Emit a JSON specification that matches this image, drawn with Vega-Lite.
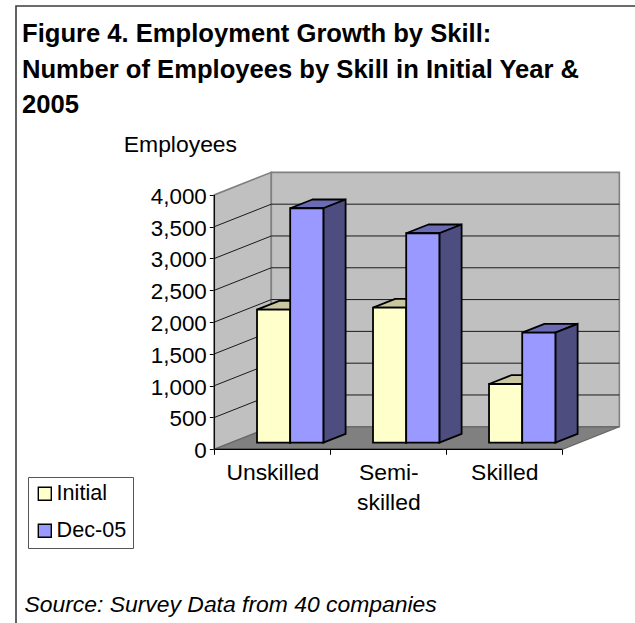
{
  "$schema": "https://vega.github.io/schema/vega-lite/v6.json",
  "width": 625,
  "height": 625,
  "autosize": "none",
  "padding": {"left": 16, "top": 6, "right": -6, "bottom": -8},
  "background": "white",
  "view": {"stroke": "#3c3c3c", "strokeWidth": 1.6, "fill": "white"},
  "config": {"font": "Liberation Sans"},
  "title": {
    "text": ["Figure 4. Employment Growth by Skill:", "Number of Employees by Skill in Initial Year &", "2005"],
    "anchor": "start",
    "frame": "group",
    "offset": 0,
    "dx": 6,
    "dy": 113,
    "align": "left",
    "font": "Liberation Sans",
    "fontSize": 25.6,
    "fontWeight": "bold",
    "color": "black",
    "lineHeight": 35.5
  },
  "params": [
    {"name": "Dx", "value": 0.4914},
    {"name": "Dy", "value": 354},
    {"name": "zNear", "value": 0.293},
    {"name": "zFar", "value": 0.683}
  ],
  "datasets": {
    "bars": [
      {"skill": "Unskilled", "series": "Initial", "value": 2092},
      {"skill": "Unskilled", "series": "Dec-05", "value": 3686},
      {"skill": "Semi-skilled", "series": "Initial", "value": 2123},
      {"skill": "Semi-skilled", "series": "Dec-05", "value": 3293},
      {"skill": "Skilled", "series": "Initial", "value": 923},
      {"skill": "Skilled", "series": "Dec-05", "value": 1730}
    ],
    "depth": [{"z": 0}, {"z": 1}],
    "span": [{"c": 0}, {"c": 3}],
    "ticks": [{"v": 500}, {"v": 1000}, {"v": 1500}, {"v": 2000}, {"v": 2500}, {"v": 3000}, {"v": 3500}],
    "origin": [{"o": 0}]
  },
  "layer": [
    {
      "data": {"name": "depth"},
      "transform": [
        {"calculate": "datum.z * Dx", "as": "px"},
        {"calculate": "datum.z * Dy", "as": "py"},
        {"calculate": "4000 + datum.z * Dy", "as": "py2"}
      ],
      "mark": {"type": "area", "fill": "#c0c0c0", "stroke": "#808080", "strokeWidth": 1.6},
      "encoding": {
        "x": {
          "field": "px",
          "type": "quantitative",
          "scale": {"domain": [-1.7095, 3.678], "nice": false, "zero": false},
          "axis": {
            "orient": "bottom",
            "offset": -181.7,
            "domain": false,
            "grid": false,
            "values": [0, 0.5, 1, 1.5, 2, 2.5, 3],
            "labelExpr": "datum.value == 0.5 ? 'Unskilled' : datum.value == 1.5 ? ['Semi-', 'skilled'] : datum.value == 2.5 ? 'Skilled' : ''",
            "labelFont": "Liberation Sans",
            "labelFontSize": 22.9,
            "labelColor": "black",
            "labelPadding": 7,
            "labelLineHeight": 30,
            "labelOverlap": false,
            "labelFlush": false,
            "labelBound": false,
            "tickColor": "black",
            "tickSize": 5,
            "tickOpacity": {"condition": {"test": "datum.value % 1 == 0", "value": 1}, "value": 0},
            "title": "Source: Survey Data from 40 companies",
            "titleFont": "Liberation Sans",
            "titleFontSize": 22.9,
            "titleFontStyle": "italic",
            "titleFontWeight": "normal",
            "titleColor": "black",
            "titleAnchor": "start",
            "titleAlign": "left",
            "titleBaseline": "alphabetic",
            "titleX": 8,
            "titleY": 162.5
          }
        },
        "y": {
          "field": "py",
          "type": "quantitative",
          "scale": {"domain": [-2857, 6970], "nice": false, "zero": false},
          "axis": {
            "orient": "left",
            "offset": -198.3,
            "domain": false,
            "grid": false,
            "values": [0, 500, 1000, 1500, 2000, 2500, 3000, 3500, 4000],
            "format": ",d",
            "labelFont": "Liberation Sans",
            "labelFontSize": 22.4,
            "labelColor": "black",
            "labelPadding": 3,
            "labelOffset": 1.5,
            "labelOverlap": false,
            "labelFlush": false,
            "labelBound": false,
            "tickColor": "black",
            "tickSize": 5,
            "title": "Employees",
            "titleFont": "Liberation Sans",
            "titleFontSize": 22.9,
            "titleFontWeight": "normal",
            "titleColor": "black",
            "titleAngle": 0,
            "titleAlign": "left",
            "titleBaseline": "middle",
            "titleX": -91,
            "titleY": 138
          }
        },
        "y2": {"field": "py2"}
      }
    },
    {
      "data": {"name": "span"},
      "transform": [
        {"calculate": "datum.c + Dx", "as": "px"},
        {"calculate": "Dy", "as": "py"},
        {"calculate": "4000 + Dy", "as": "py2"}
      ],
      "mark": {"type": "area", "fill": "#c0c0c0", "stroke": "#808080", "strokeWidth": 1.6},
      "encoding": {
        "x": {"field": "px", "type": "quantitative", "scale": {"domain": [-1.7095, 3.678], "nice": false, "zero": false}},
        "y": {"field": "py", "type": "quantitative", "scale": {"domain": [-2857, 6970], "nice": false, "zero": false}},
        "y2": {"field": "py2"}
      }
    },
    {
      "data": {"name": "depth"},
      "transform": [
        {"calculate": "datum.z * Dx", "as": "px"},
        {"calculate": "3 + datum.z * Dx", "as": "px2"},
        {"calculate": "datum.z * Dy", "as": "py"}
      ],
      "mark": {"type": "area", "orient": "horizontal", "fill": "#808080", "stroke": "#666666", "strokeWidth": 1.2},
      "encoding": {
        "x": {"field": "px", "type": "quantitative", "scale": {"domain": [-1.7095, 3.678], "nice": false, "zero": false}},
        "x2": {"field": "px2"},
        "y": {"field": "py", "type": "quantitative", "scale": {"domain": [-2857, 6970], "nice": false, "zero": false}}
      }
    },
    {
      "data": {"name": "ticks"},
      "transform": [
        {"calculate": "[0, 1, 2]", "as": "vertex"},
        {"flatten": ["vertex"]},
        {"calculate": "datum.vertex == 0 ? 0 : datum.vertex == 1 ? Dx : 3 + Dx", "as": "px"},
        {"calculate": "datum.vertex == 0 ? datum.v : datum.v + Dy", "as": "py"}
      ],
      "mark": {"type": "line", "color": "#1a1a1a", "strokeWidth": 1},
      "encoding": {
        "x": {"field": "px", "type": "quantitative", "scale": {"domain": [-1.7095, 3.678], "nice": false, "zero": false}},
        "y": {"field": "py", "type": "quantitative", "scale": {"domain": [-2857, 6970], "nice": false, "zero": false}},
        "detail": {"field": "v"}
      }
    },
    {
      "data": {"name": "bars"},
      "transform": [
        {"calculate": "indexof(['Unskilled', 'Semi-skilled', 'Skilled'], datum.skill)", "as": "idx"},
        {"calculate": "indexof(['Initial', 'Dec-05'], datum.series)", "as": "slot"},
        {"calculate": "datum.idx + 0.224 + datum.slot * 0.286", "as": "left"},
        {"calculate": "datum.left + 0.286", "as": "right"}
      ],
      "layer": [
        {
          "transform": [
            {"calculate": "[zNear, zFar]", "as": "z"},
            {"flatten": ["z"]},
            {"calculate": "datum.left + datum.z * Dx", "as": "px"},
            {"calculate": "datum.right + datum.z * Dx", "as": "px2"},
            {"calculate": "datum.value + datum.z * Dy", "as": "py"}
          ],
          "mark": {"type": "area", "orient": "horizontal", "stroke": "black", "strokeWidth": 1.8},
          "encoding": {
            "x": {"field": "px", "type": "quantitative", "scale": {"domain": [-1.7095, 3.678], "nice": false, "zero": false}},
            "x2": {"field": "px2"},
            "y": {"field": "py", "type": "quantitative", "scale": {"domain": [-2857, 6970], "nice": false, "zero": false}},
            "detail": {"field": "skill"},
            "fill": {"field": "series", "type": "nominal", "legend": null, "scale": {"domain": ["Initial", "Dec-05"], "range": ["#c9c79f", "#6b6bb3"]}}
          }
        },
        {
          "transform": [
            {"calculate": "[zNear, zFar]", "as": "z"},
            {"flatten": ["z"]},
            {"calculate": "datum.right + datum.z * Dx", "as": "px"},
            {"calculate": "datum.value + datum.z * Dy", "as": "py"},
            {"calculate": "datum.z * Dy", "as": "py2"}
          ],
          "mark": {"type": "area", "stroke": "black", "strokeWidth": 1.8},
          "encoding": {
            "x": {"field": "px", "type": "quantitative", "scale": {"domain": [-1.7095, 3.678], "nice": false, "zero": false}},
            "y": {"field": "py", "type": "quantitative", "scale": {"domain": [-2857, 6970], "nice": false, "zero": false}},
            "y2": {"field": "py2"},
            "detail": {"field": "skill"},
            "fill": {"field": "series", "type": "nominal", "legend": null, "scale": {"domain": ["Initial", "Dec-05"], "range": ["#808066", "#4d4d80"]}}
          }
        },
        {
          "transform": [
            {"calculate": "datum.left + zNear * Dx", "as": "px"},
            {"calculate": "datum.right + zNear * Dx", "as": "px2"},
            {"calculate": "datum.value + zNear * Dy", "as": "py"},
            {"calculate": "zNear * Dy", "as": "py2"}
          ],
          "mark": {"type": "rect", "stroke": "black", "strokeWidth": 1.8},
          "encoding": {
            "x": {"field": "px", "type": "quantitative", "scale": {"domain": [-1.7095, 3.678], "nice": false, "zero": false}},
            "x2": {"field": "px2"},
            "y": {"field": "py", "type": "quantitative", "scale": {"domain": [-2857, 6970], "nice": false, "zero": false}},
            "y2": {"field": "py2"},
            "fill": {
              "field": "series",
              "type": "nominal",
              "scale": {"domain": ["Initial", "Dec-05"], "range": ["#ffffcc", "#9999ff"]},
              "legend": {
                "orient": "none",
                "legendX": 12,
                "legendY": 471,
                "title": null,
                "fillColor": "white",
                "strokeColor": "#555555",
                "padding": 6,
                "symbolType": "square",
                "symbolSize": 169,
                "symbolStrokeColor": "black",
                "symbolStrokeWidth": 1.4,
                "labelFont": "Liberation Sans",
                "labelFontSize": 21.6,
                "labelColor": "black",
                "labelOffset": 1,
                "rowPadding": 14
              }
            }
          }
        }
      ],
      "resolve": {"scale": {"fill": "independent"}}
    },
    {
      "data": {"name": "origin"},
      "transform": [
        {"calculate": "0", "as": "px"},
        {"calculate": "0", "as": "py"},
        {"calculate": "4000", "as": "py2"}
      ],
      "mark": {"type": "rule", "color": "black", "strokeWidth": 1.2},
      "encoding": {
        "x": {"field": "px", "type": "quantitative", "scale": {"domain": [-1.7095, 3.678], "nice": false, "zero": false}},
        "y": {"field": "py", "type": "quantitative", "scale": {"domain": [-2857, 6970], "nice": false, "zero": false}},
        "y2": {"field": "py2"}
      }
    },
    {
      "data": {"name": "origin"},
      "transform": [
        {"calculate": "0", "as": "px"},
        {"calculate": "3", "as": "px2"},
        {"calculate": "0", "as": "py"}
      ],
      "mark": {"type": "rule", "color": "black", "strokeWidth": 1.2},
      "encoding": {
        "x": {"field": "px", "type": "quantitative", "scale": {"domain": [-1.7095, 3.678], "nice": false, "zero": false}},
        "x2": {"field": "px2"},
        "y": {"field": "py", "type": "quantitative", "scale": {"domain": [-2857, 6970], "nice": false, "zero": false}}
      }
    }
  ]
}
